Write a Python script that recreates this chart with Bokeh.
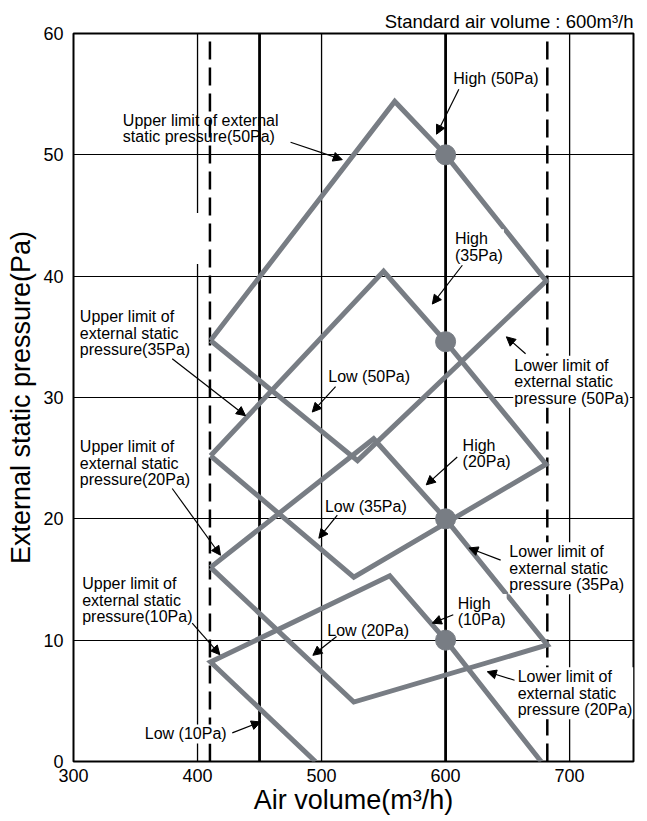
from bokeh.plotting import figure
from bokeh.models import Range1d, Label, Arrow, NormalHead, FixedTicker
from bokeh.embed import file_html
from bokeh.resources import INLINE

# ---------------- data ----------------
x_ticks = [300, 400, 500, 600, 700]
y_ticks = [0, 10, 20, 30, 40, 50, 60]

# operating ranges (air volume m3/h, external static pressure Pa)
range50_x = [410.5, 559, 600, 681, 529, 410.5]
range50_y = [34.7, 54.4, 50.0, 39.6, 24.8, 34.7]
range35_x = [410.5, 550, 600, 681, 526, 410.5]
range35_y = [25.2, 40.4, 34.6, 24.5, 15.2, 25.2]
range20_x = [410.5, 542, 600, 682, 526, 410.5]
range20_y = [16.0, 26.6, 20.0, 9.6, 4.9, 16.0]
range10_x = [495, 410.5, 555, 600, 677]
range10_y = [0.0, 8.2, 15.3, 10.0, 0.0]

# rated points (High notch at standard air volume)
rated_x = [600, 600, 600, 600]
rated_y = [50.0, 34.6, 20.0, 10.0]

# reference air-volume lines
thin_x = [400, 400, 500, 700]
thin_y0 = [60, 41.0, 0, 0]
thin_y1 = [45.2, 0, 60, 60]
thick_x = [450, 600]
dash_x = [410, 682]

GRAY = "#787d84"
FONT = "Liberation Sans"

p = figure(width=645, height=821, x_range=Range1d(300, 751.5), y_range=Range1d(0, 60),
           output_backend="svg", toolbar_location=None,
           min_border_left=73, min_border_right=12, min_border_top=33, min_border_bottom=60)
p.background_fill_color = "white"
p.border_fill_color = "white"
p.outline_line_color = "black"
p.outline_line_width = 2

p.title.text = "Standard air volume : 600m³/h"
p.title.align = "right"
p.title.text_font = FONT
p.title.text_font_size = "18.5px"
p.title.text_font_style = "normal"
p.title.text_color = "black"
p.title.standoff = 3
p.title.offset = 0

p.xaxis.ticker = FixedTicker(ticks=x_ticks)
p.yaxis.ticker = FixedTicker(ticks=y_ticks)
p.xaxis.axis_label = "Air volume(m³/h)"
p.yaxis.axis_label = "External static pressure(Pa)"
for ax in (p.xaxis, p.yaxis):
    ax.axis_label_text_font = FONT
    ax.axis_label_text_font_style = "normal"
    ax.axis_label_text_color = "black"
    ax.axis_label_text_font_size = "27px"
    ax.major_label_text_font = FONT
    ax.major_label_text_font_size = "18px"
    ax.major_label_text_color = "black"
    ax.major_tick_line_color = None
    ax.minor_tick_line_color = None
    ax.major_tick_out = 0
    ax.major_tick_in = 0
    ax.minor_tick_out = 0
    ax.minor_tick_in = 0
    ax.axis_line_color = None
p.xaxis.major_label_standoff = 7
p.xaxis.axis_label_standoff = 0
p.yaxis.major_label_standoff = 10
p.yaxis.axis_label_standoff = 4

p.xgrid.visible = False
p.ygrid.grid_line_color = "black"
p.ygrid.grid_line_width = 1.2

# reference vertical lines
p.segment(x0=thin_x, y0=thin_y0, x1=thin_x, y1=thin_y1, line_color="black", line_width=1.3)
p.segment(x0=thick_x, y0=[0, 0], x1=thick_x, y1=[60, 60], line_color="black", line_width=2.8)
p.segment(x0=dash_x, y0=[0, 0], x1=dash_x, y1=[60, 60], line_color="black", line_width=2.5,
          line_dash="18 8")

for xs, ys in [(range50_x, range50_y), (range35_x, range35_y),
               (range20_x, range20_y), (range10_x, range10_y)]:
    p.line(xs, ys, line_color=GRAY, line_width=5, line_join="miter")

p.scatter(rated_x, rated_y, size=20, fill_color=GRAY, line_color=GRAY)

labels = [
    ("Upper limit of external\nstatic pressure(50Pa)", 339.8, 53.56, False),
    ("High (50Pa)", 605.4, 57.05, True),
    ("High\n(35Pa)", 606.7, 43.87, True),
    ("Upper limit of\nexternal static\npressure(35Pa)", 304.3, 37.42, True),
    ("Low (50Pa)", 504.6, 32.48, True),
    ("Lower limit of\nexternal static\npressure (50Pa)", 654.6, 33.44, True),
    ("Upper limit of\nexternal static\npressure(20Pa)", 304.3, 26.71, True),
    ("High\n(20Pa)", 612.9, 26.85, True),
    ("Low (35Pa)", 501.9, 21.77, True),
    ("Lower limit of\nexternal static\npressure (35Pa)", 650.6, 18.06, True),
    ("Upper limit of\nexternal static\npressure(10Pa)", 306.2, 15.45, True),
    ("High\n(10Pa)", 608.9, 13.81, True),
    ("Low (20Pa)", 503.8, 11.61, True),
    ("Lower limit of\nexternal static\npressure (20Pa)", 657.3, 7.77, True),
    ("Low (10Pa)", 356.7, 3.05, True),
]
for txt, lx, ly, bg in labels:
    lab = Label(x=lx, y=ly, text=txt, text_font=FONT, text_font_size="16px",
                text_align="left", text_baseline="top", text_line_height=0.97,
                text_color="black")
    if bg:
        lab.background_fill_color = "white"
        lab.padding = 1
    p.add_layout(lab)

arrows = [
    (475.0, 51.04, 516.7, 49.6),
    (610.7, 55.4, 592.7, 51.7),
    (613.5, 40.9, 589.3, 37.7),
    (379.6, 33.2, 438.7, 28.5),
    (511.3, 30.9, 492.5, 28.8),
    (664.5, 33.6, 649.0, 35.0),
    (379.6, 22.5, 418.5, 17.0),
    (609.4, 25.1, 584.4, 22.8),
    (512.7, 20.3, 497.8, 18.4),
    (644.4, 16.6, 618.8, 17.6),
    (395.7, 11.4, 418.0, 8.8),
    (606.2, 12.1, 589.3, 11.4),
    (512.1, 10.3, 493.0, 8.75),
    (655.6, 6.7, 633.6, 7.4),
    (428.0, 2.36, 450.8, 3.26),
]
for x0, y0, x1, y1 in arrows:
    p.add_layout(Arrow(end=NormalHead(size=9, fill_color="black", line_color="black"),
                       x_start=x0, y_start=y0, x_end=x1, y_end=y1,
                       line_color="black", line_width=1.2))

open("out.html", "w").write(file_html(p, INLINE))
